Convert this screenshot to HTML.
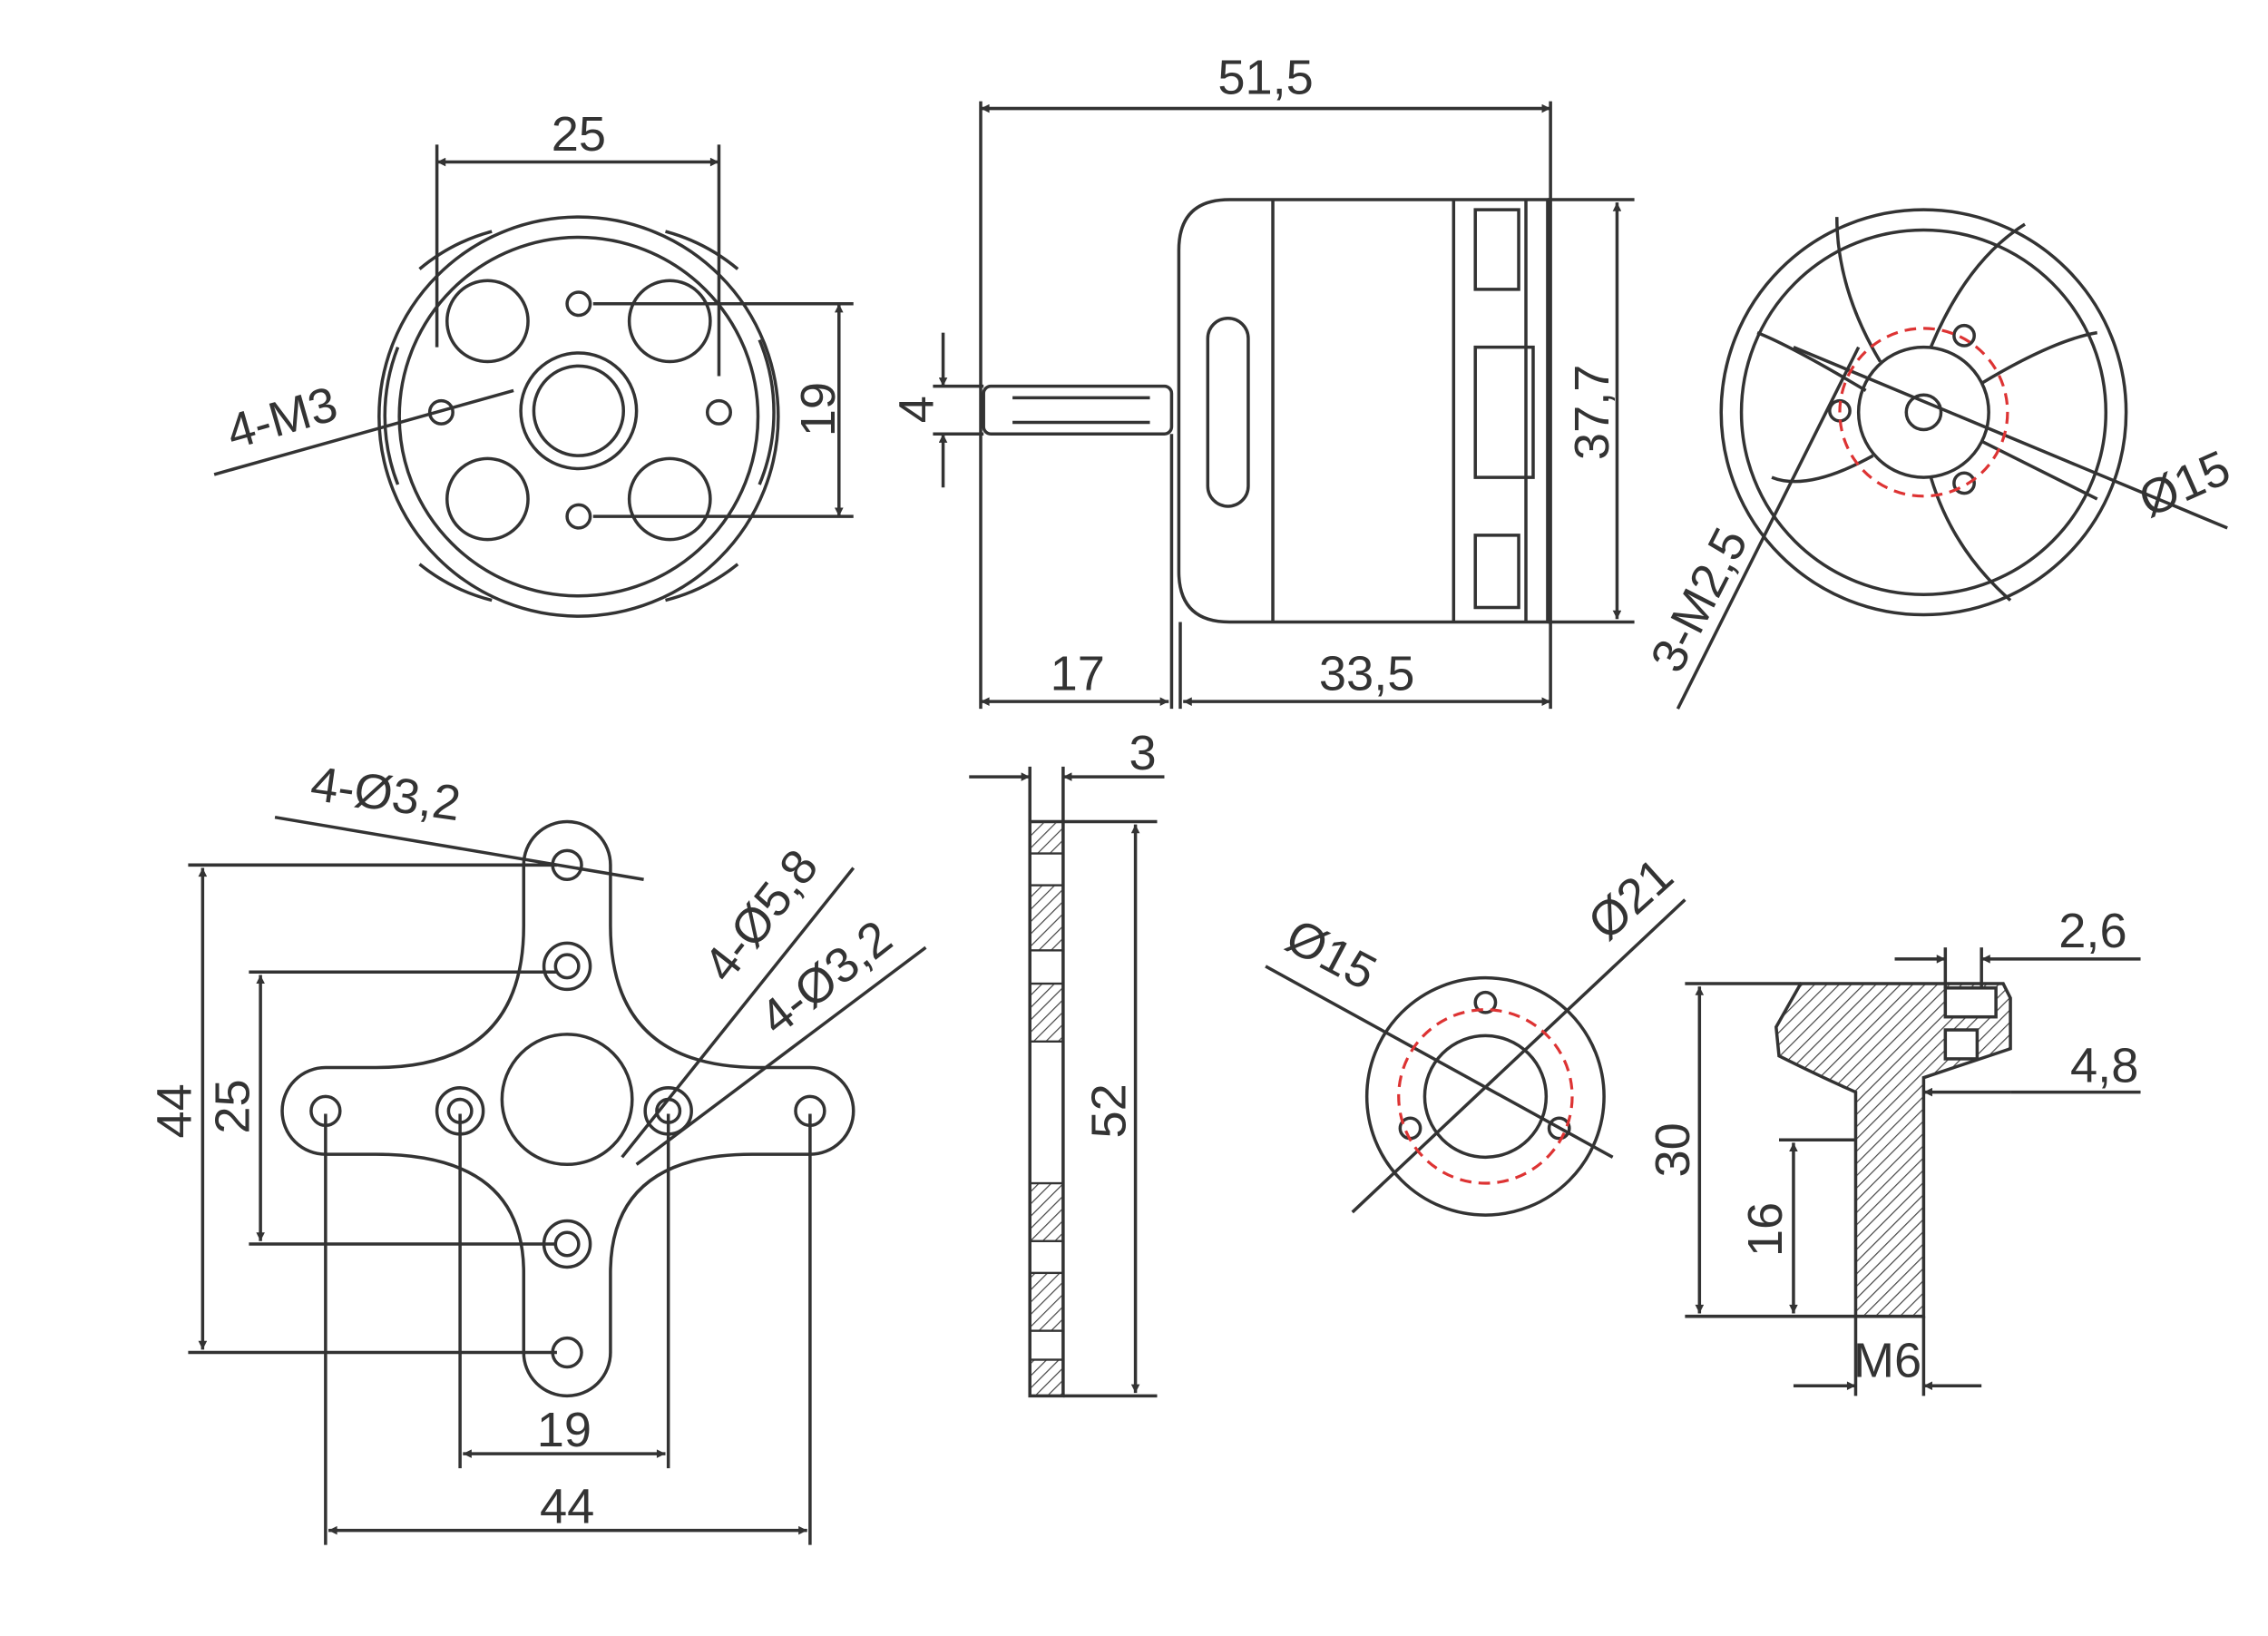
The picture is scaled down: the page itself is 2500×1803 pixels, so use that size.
<!DOCTYPE html>
<html><head><meta charset="utf-8"><style>
html,body{margin:0;padding:0;background:#fff;}
svg{display:block;}
text{font-family:"Liberation Sans",sans-serif;font-size:34px;fill:#333;}
</style></head><body>
<svg width="2500" height="1803" viewBox="0 0 1568 1131" xmlns="http://www.w3.org/2000/svg">
<defs>
<marker id="a" viewBox="0 0 10 10" refX="10" refY="5" markerWidth="10" markerHeight="6" orient="auto-start-reverse" markerUnits="userSpaceOnUse"><path d="M0,0 L10,5 L0,10z" fill="#333"/></marker>
<pattern id="h" width="6" height="6" patternUnits="userSpaceOnUse" patternTransform="rotate(45)"><line x1="0" y1="0" x2="0" y2="6" stroke="#444" stroke-width="1.5"/></pattern>
</defs>
<g fill="none" stroke="#333" stroke-width="2.2">
<!-- Top-left front view -->
<circle cx="400" cy="288" r="138"/>
<circle cx="400" cy="288" r="124"/>
<circle cx="337" cy="222" r="28"/><circle cx="463" cy="222" r="28"/>
<circle cx="337" cy="345" r="28"/><circle cx="463" cy="345" r="28"/>
<circle cx="400" cy="284" r="40"/><circle cx="400" cy="284" r="31"/>
<circle cx="400" cy="210" r="8"/><circle cx="400" cy="357" r="8"/>
<circle cx="305" cy="285" r="8"/><circle cx="497" cy="285" r="8"/>
<path d="M290,186 A130,130 0 0 1 340,160 M460,160 A130,130 0 0 1 510,186 M525,235 A130,130 0 0 1 525,335 M510,390 A130,130 0 0 1 460,415 M340,415 A130,130 0 0 1 290,390 M275,335 A130,130 0 0 1 275,240"/>
<line x1="302" y1="100" x2="302" y2="240"/><line x1="497" y1="100" x2="497" y2="260"/>
<line x1="302" y1="112" x2="497" y2="112" marker-start="url(#a)" marker-end="url(#a)"/>
<line x1="410" y1="210" x2="590" y2="210"/><line x1="410" y1="357" x2="590" y2="357"/>
<line x1="580" y1="210" x2="580" y2="357" marker-start="url(#a)" marker-end="url(#a)"/>
<line x1="148" y1="328" x2="355" y2="270"/>
<!-- Side view -->
<rect x="680" y="267" width="130" height="33" rx="5"/>
<line x1="700" y1="275" x2="795" y2="275"/><line x1="700" y1="292" x2="795" y2="292"/>
<path d="M850,138 L1070,138 L1070,430 L850,430 Q815,430 815,395 L815,173 Q815,138 850,138Z"/>
<line x1="880" y1="138" x2="880" y2="430"/>
<line x1="1005" y1="138" x2="1005" y2="430"/>
<line x1="1055" y1="138" x2="1055" y2="430"/>
<rect x="835" y="220" width="28" height="130" rx="14"/>
<path d="M1020,145 L1050,145 L1050,200 L1020,200Z M1020,240 L1060,240 L1060,330 L1020,330Z M1020,370 L1050,370 L1050,420 L1020,420Z"/>
<line x1="678" y1="70" x2="678" y2="490"/><line x1="1072" y1="70" x2="1072" y2="490"/>
<line x1="678" y1="75" x2="1072" y2="75" marker-start="url(#a)" marker-end="url(#a)"/>
<line x1="810" y1="300" x2="810" y2="490"/><line x1="816" y1="430" x2="816" y2="490"/>
<line x1="678" y1="485" x2="808" y2="485" marker-start="url(#a)" marker-end="url(#a)"/>
<line x1="818" y1="485" x2="1072" y2="485" marker-start="url(#a)" marker-end="url(#a)"/>
<line x1="1070" y1="138" x2="1130" y2="138"/><line x1="1070" y1="430" x2="1130" y2="430"/>
<line x1="1118" y1="140" x2="1118" y2="428" marker-start="url(#a)" marker-end="url(#a)"/>
<line x1="645" y1="267" x2="680" y2="267"/><line x1="645" y1="300" x2="680" y2="300"/>
<line x1="652" y1="230" x2="652" y2="267" marker-end="url(#a)"/><line x1="652" y1="337" x2="652" y2="300" marker-end="url(#a)"/>
<!-- Right rear view -->
<circle cx="1330" cy="285" r="140"/>
<circle cx="1330" cy="285" r="126"/>
<circle cx="1330" cy="285" r="45"/><circle cx="1330" cy="285" r="12"/>
<circle cx="1358" cy="232" r="7"/><circle cx="1358" cy="334" r="7"/><circle cx="1272" cy="284" r="7"/>
<path d="M1300,250 Q1270,200 1270,150 M1335,240 Q1360,180 1400,155 M1370,265 Q1420,235 1450,230 M1370,305 Q1420,330 1450,345 M1335,330 Q1350,380 1390,415 M1295,315 Q1250,340 1225,330 M1290,270 Q1240,240 1215,230"/>
<line x1="1160" y1="490" x2="1285" y2="240"/>
<line x1="1240" y1="240" x2="1540" y2="365"/>
</g>
<circle cx="1330" cy="285" r="58" fill="none" stroke="#d33" stroke-width="2" stroke-dasharray="8 5"/>
<g fill="none" stroke="#333" stroke-width="2.2">
<!-- X mount -->
<path d="M362,598 A30,30 0 0 1 422,598 L422,640 Q422,738 525,738 L560,738 A30,30 0 0 1 560,798 L520,798 Q422,798 422,880 L422,935 A30,30 0 0 1 362,935 L362,880 Q362,798 260,798 L225,798 A30,30 0 0 1 225,738 L260,738 Q362,738 362,640 Z"/>
<circle cx="392" cy="760" r="45"/>
<circle cx="392" cy="598" r="10"/>
<circle cx="392" cy="668" r="16"/><circle cx="392" cy="668" r="8"/>
<circle cx="392" cy="860" r="16"/><circle cx="392" cy="860" r="8"/>
<circle cx="392" cy="935" r="10"/>
<circle cx="225" cy="768" r="10"/><circle cx="560" cy="768" r="10"/>
<circle cx="318" cy="768" r="16"/><circle cx="318" cy="768" r="8"/>
<circle cx="462" cy="768" r="16"/><circle cx="462" cy="768" r="8"/>
<line x1="130" y1="598" x2="385" y2="598"/><line x1="130" y1="935" x2="385" y2="935"/>
<line x1="140" y1="600" x2="140" y2="933" marker-start="url(#a)" marker-end="url(#a)"/>
<line x1="172" y1="672" x2="385" y2="672"/><line x1="172" y1="860" x2="385" y2="860"/>
<line x1="180" y1="674" x2="180" y2="858" marker-start="url(#a)" marker-end="url(#a)"/>
<line x1="318" y1="770" x2="318" y2="1015"/><line x1="462" y1="770" x2="462" y2="1015"/>
<line x1="320" y1="1005" x2="460" y2="1005" marker-start="url(#a)" marker-end="url(#a)"/>
<line x1="225" y1="770" x2="225" y2="1068"/><line x1="560" y1="770" x2="560" y2="1068"/>
<line x1="227" y1="1058" x2="558" y2="1058" marker-start="url(#a)" marker-end="url(#a)"/>
<line x1="190" y1="565" x2="445" y2="608"/>
<line x1="430" y1="800" x2="590" y2="600"/>
<line x1="440" y1="805" x2="640" y2="655"/>
<!-- side plate -->
<rect x="712" y="568" width="23" height="397"/>
<line x1="735" y1="568" x2="800" y2="568"/><line x1="735" y1="965" x2="800" y2="965"/>
<line x1="785" y1="570" x2="785" y2="963" marker-start="url(#a)" marker-end="url(#a)"/>
<line x1="712" y1="530" x2="712" y2="568"/><line x1="735" y1="530" x2="735" y2="568"/>
<line x1="670" y1="537" x2="712" y2="537" marker-end="url(#a)"/><line x1="805" y1="537" x2="735" y2="537" marker-end="url(#a)"/>
</g>
<g fill="url(#h)" stroke="#333" stroke-width="1.5">
<rect x="712" y="568" width="23" height="22"/><rect x="712" y="612" width="23" height="45"/>
<rect x="712" y="680" width="23" height="40"/><rect x="712" y="818" width="23" height="40"/>
<rect x="712" y="880" width="23" height="40"/><rect x="712" y="940" width="23" height="25"/>
</g>
<g fill="none" stroke="#333" stroke-width="2.2">
<!-- adapter front -->
<circle cx="1027" cy="758" r="82"/><circle cx="1027" cy="758" r="42"/>
<circle cx="1027" cy="693" r="7"/><circle cx="975" cy="780" r="7"/><circle cx="1078" cy="780" r="7"/>
<line x1="875" y1="668" x2="1115" y2="800"/>
<line x1="935" y1="838" x2="1165" y2="622"/>
<!-- adapter side -->
<path d="M1245,680 L1385,680 L1390,690 L1390,725 L1330,745 L1330,910 L1283,910 L1283,755 Q1260,745 1230,730 L1228,710 Z" fill="url(#h)"/>
<rect x="1345" y="683" width="35" height="20" fill="#fff"/>
<rect x="1345" y="712" width="22" height="20" fill="#fff"/>
<line x1="1165" y1="680" x2="1245" y2="680"/><line x1="1165" y1="910" x2="1283" y2="910"/>
<line x1="1175" y1="682" x2="1175" y2="908" marker-start="url(#a)" marker-end="url(#a)"/>
<line x1="1230" y1="788" x2="1283" y2="788"/>
<line x1="1240" y1="790" x2="1240" y2="908" marker-start="url(#a)" marker-end="url(#a)"/>
<line x1="1283" y1="910" x2="1283" y2="965"/><line x1="1330" y1="910" x2="1330" y2="965"/>
<line x1="1240" y1="958" x2="1283" y2="958" marker-end="url(#a)"/><line x1="1370" y1="958" x2="1330" y2="958" marker-end="url(#a)"/>
<line x1="1345" y1="655" x2="1345" y2="683"/><line x1="1370" y1="655" x2="1370" y2="683"/>
<line x1="1310" y1="663" x2="1345" y2="663" marker-end="url(#a)"/><line x1="1480" y1="663" x2="1370" y2="663" marker-end="url(#a)"/>
<line x1="1390" y1="755" x2="1330" y2="755" marker-end="url(#a)"/><line x1="1390" y1="755" x2="1480" y2="755"/>
</g>
<circle cx="1027" cy="758" r="60" fill="none" stroke="#d33" stroke-width="2" stroke-dasharray="8 5"/>
<!-- Text -->
<text x="400" y="104" text-anchor="middle">25</text>
<text transform="translate(577,283) rotate(-90)" text-anchor="middle">19</text>
<text transform="translate(198,300) rotate(-16)" text-anchor="middle">4-M3</text>
<text x="875" y="65" text-anchor="middle">51,5</text>
<text x="745" y="477" text-anchor="middle">17</text>
<text x="945" y="477" text-anchor="middle">33,5</text>
<text transform="translate(1112,285) rotate(-90)" text-anchor="middle">37,7</text>
<text transform="translate(645,283) rotate(-90)" text-anchor="middle">4</text>
<text transform="translate(1515,345) rotate(-24)" text-anchor="middle">Ø15</text>
<text transform="translate(1185,420) rotate(-63)" text-anchor="middle">3-M2,5</text>
<text transform="translate(265,560) rotate(8)" text-anchor="middle">4-Ø3,2</text>
<text transform="translate(535,640) rotate(-52)" text-anchor="middle">4-Ø5,8</text>
<text transform="translate(578,685) rotate(-38)" text-anchor="middle">4-Ø3,2</text>
<text transform="translate(132,768) rotate(-90)" text-anchor="middle">44</text>
<text transform="translate(172,765) rotate(-90)" text-anchor="middle">25</text>
<text x="390" y="1000" text-anchor="middle">19</text>
<text x="392" y="1053" text-anchor="middle">44</text>
<text x="790" y="532" text-anchor="middle">3</text>
<text transform="translate(778,768) rotate(-90)" text-anchor="middle">52</text>
<text transform="translate(915,670) rotate(28)" text-anchor="middle">Ø15</text>
<text transform="translate(1135,630) rotate(-42)" text-anchor="middle">Ø21</text>
<text x="1447" y="655" text-anchor="middle">2,6</text>
<text x="1455" y="748" text-anchor="middle">4,8</text>
<text transform="translate(1168,795) rotate(-90)" text-anchor="middle">30</text>
<text transform="translate(1232,850) rotate(-90)" text-anchor="middle">16</text>
<text x="1305" y="952" text-anchor="middle">M6</text>
</svg>
</body></html>
